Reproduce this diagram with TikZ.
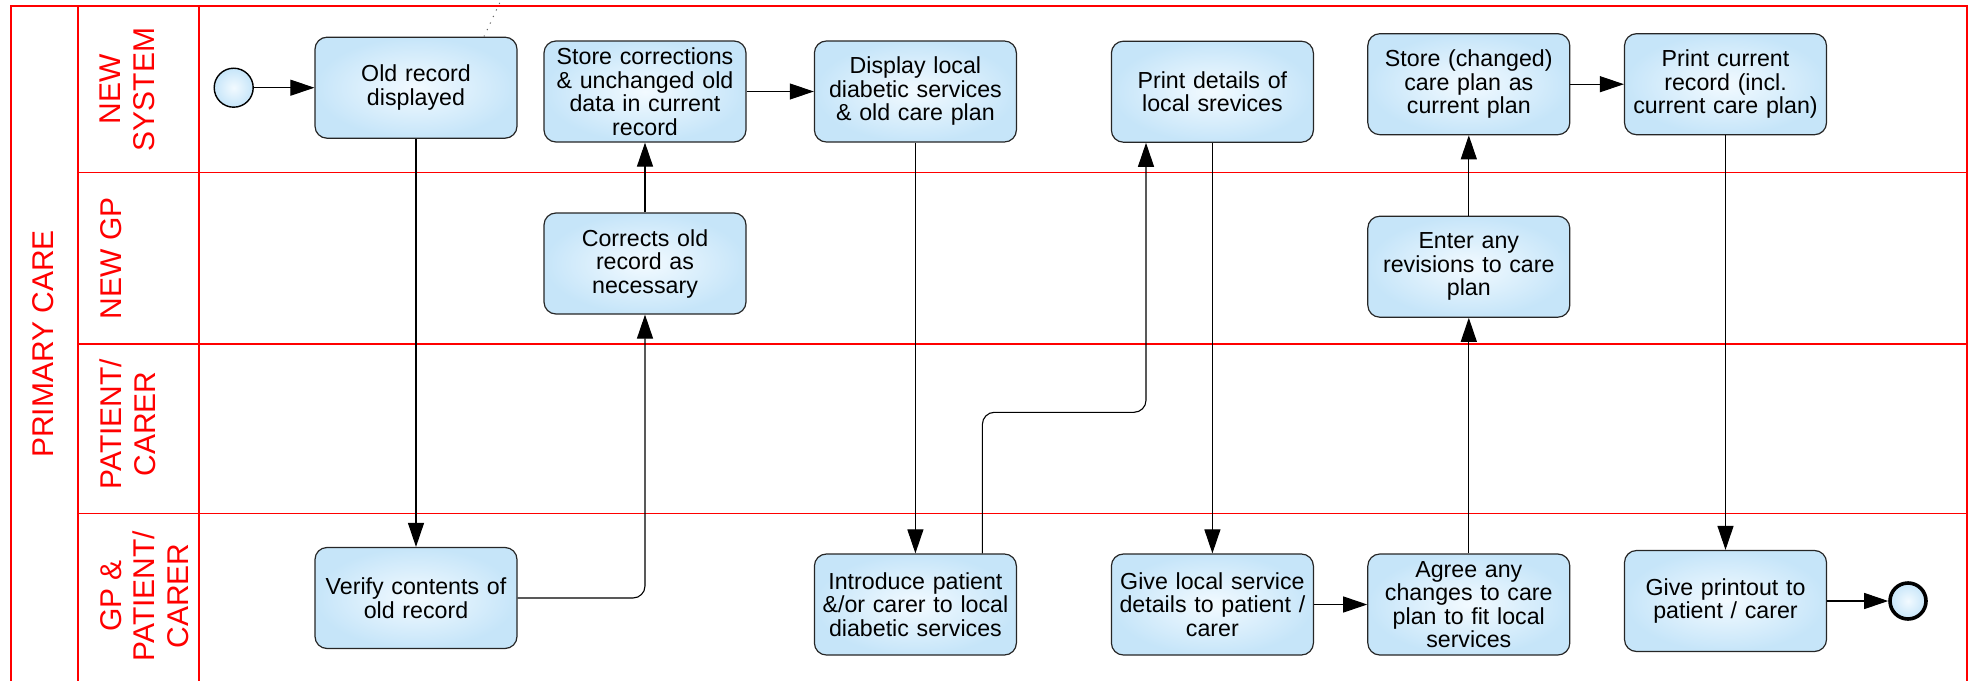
\documentclass[tikz,border=0pt]{standalone}
\usepackage{fontspec}
\setmainfont{Liberation Sans}
\usetikzlibrary{arrows.meta}

\definecolor{lanered}{RGB}{255,0,0}
\definecolor{boxin}{RGB}{242,250,255}
\definecolor{boxout}{RGB}{198,229,249}

\begin{document}
\begin{tikzpicture}[x=1pt,y=-1pt,
  lane/.style={draw=lanered, line width=1.8pt},
  lanelabel/.style={text=lanered, rotate=90, anchor=north, inner sep=0pt,
    align=center, font=\fontsize{30}{33.5}\selectfont},
  task/.style={rectangle, rounded corners=12pt, draw=black!85, line width=1.2pt,
    inner color=boxin, outer color=boxout, minimum width=202pt,
    minimum height=101pt, text width=198pt, align=center, inner sep=0pt,
    font=\fontsize{23.2}{23.5}\selectfont},
  startev/.style={circle, draw=black, line width=1.4pt, minimum size=39pt,
    inner sep=0pt, inner color=boxin, outer color=boxout},
  endev/.style={circle, draw=black, line width=3.6pt, minimum size=36pt,
    inner sep=0pt, inner color=boxin, outer color=boxout},
  flow/.style={draw=black, line width=1.1pt,
    -{Triangle[length=24pt,width=16pt]}},
  assoc/.style={draw=black!60, line width=1pt, dash pattern=on 1.2pt off 6pt},
]
\useasboundingbox (0,0) rectangle (1973,680);

% pool and lanes
\draw[lane] (10.7,6) rectangle (1967,692);
\draw[lane] (78.3,6) -- (78.3,692);
\draw[lane] (199.3,6) -- (199.3,692);
\draw[lane] (78.3,172.5) -- (1967,172.5);
\draw[lane] (78.3,344) -- (1967,344);
\draw[lane] (78.3,513.5) -- (1967,513.5);

\node[lanelabel] (lblpool) at (32.3,344) {PRIMARY CARE};
\node[lanelabel] (lblsys) at (100,89.5) {NEW\\SYSTEM};
\node[lanelabel] (lblgp) at (100,258.3) {NEW GP};
\node[lanelabel] (lblpat) at (100,424) {PATIENT/\\CARER};
\node[lanelabel] (lblall) at (100,596) {GP \&\\PATIENT/\\CARER};

% events
\node[startev] (start) at (233.7,87.7) {};
\node[endev] (finish) at (1908,601) {};

% tasks
\node[task] (oldrec) at (416,87.7) {Old record\\displayed};
\node[task] (storec) at (645,91.5) {Store corrections\\\& unchanged old\\data in current\\record};
\node[task] (disp) at (915.4,91.5) {Display local\\diabetic services\\\& old care plan};
\node[task] (printd) at (1212.4,91.7) {Print details of\\local srevices};
\node[task] (stch) at (1468.8,84.2) {Store (changed)\\care plan as\\current plan};
\node[task] (printc) at (1725.5,84.2) {Print current\\record (incl.\\current care plan)};
\node[task] (corr) at (645,263.5) {Corrects old\\record as\\necessary};
\node[task] (enter) at (1468.8,266.7) {Enter any\\revisions to care\\plan};
\node[task] (verify) at (416,598) {Verify contents of\\old record};
\node[task] (intro) at (915.4,604.5) {Introduce patient\\\&/or carer to local\\diabetic services};
\node[task] (givel) at (1212.4,604.5) {Give local service\\details to patient /\\carer};
\node[task] (agree) at (1468.8,604.5) {Agree any\\changes to care\\plan to fit local\\services};
\node[task] (givep) at (1725.5,601) {Give printout to\\patient / carer};

% sequence flows
\draw[flow] (start) -- (oldrec);
\draw[flow] (oldrec) -- (verify);
\draw[flow, rounded corners=12pt] (verify.east) -| (corr.south);
\draw[flow] (corr) -- (storec);
\draw[flow] (storec) -- (disp);
\draw[flow] (disp) -- (intro);
\coordinate (jog) at (1146,412.3);
\draw[flow, rounded corners=12pt] ([xshift=67pt]intro.north) |- (jog)
  -- ([xshift=-66.4pt]printd.south);
\draw[flow] (printd) -- (givel);
\draw[flow] (givel) -- (agree);
\draw[flow] (agree) -- (enter);
\draw[flow] (enter) -- (stch);
\draw[flow] (stch) -- (printc);
\draw[flow] (printc) -- (givep);
\draw[flow] (givep) -- (finish);

% association to an annotation above the pool
\coordinate (note) at (502,-2);
\draw[assoc] ([xshift=68pt]oldrec.north) -- (note);
\end{tikzpicture}
\end{document}
